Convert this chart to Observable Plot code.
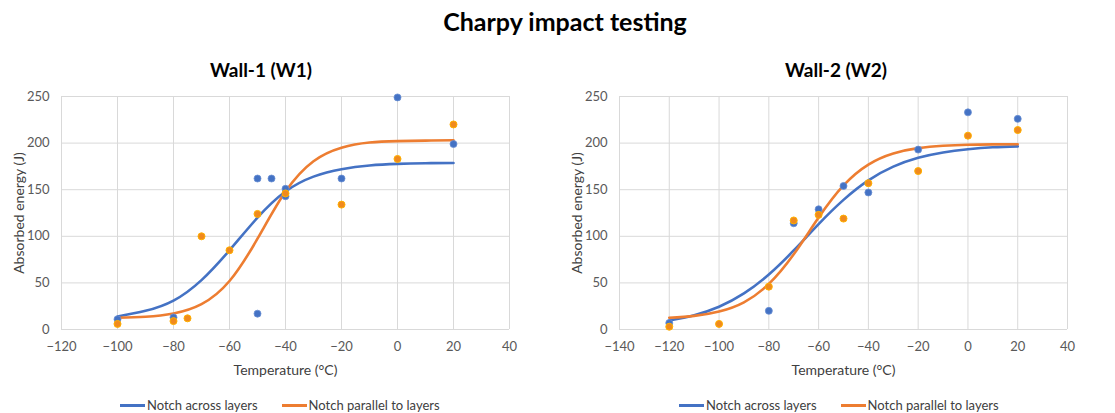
<!DOCTYPE html>
<html>
<head>
<meta charset="utf-8">
<script src="https://cdn.jsdelivr.net/npm/d3@7"></script>
<script src="https://cdn.jsdelivr.net/npm/@observablehq/plot@0.6"></script>
<style>
  body { margin: 0; background: #fff; }
  #root { position: relative; width: 1115px; height: 413px; font-family: Lato, "Open Sans", sans-serif; overflow: hidden; }
  .abs { position: absolute; }
  .title { font-weight: bold; font-size: 25px; color: #000; line-height: 1; white-space: nowrap; transform: translateX(-50%); }
  .sub { font-weight: bold; font-size: 19px; color: #000; line-height: 1; white-space: nowrap; transform: translateX(-50%); }
  .legend { display: flex; align-items: center; font-size: 13px; color: #404040; white-space: nowrap; }
  .sw { display: inline-block; width: 25px; height: 3px; margin-right: 2px; }
  .item { display: flex; align-items: center; margin-right: 24px; }
</style>
</head>
<body>
<div id="root"></div>
<script>
// ---- data ----
const chartTitle = "Charpy impact testing";
const panelTitles = ["Wall-1 (W1)", "Wall-2 (W2)"];
const seriesNames = ["Notch across layers", "Notch parallel to layers"];
const xLabel = "Temperature (°C)";
const yLabel = "Absorbed energy (J)";
const yTicks = [0, 50, 100, 150, 200, 250];
const xTicksW1 = [-120, -100, -80, -60, -40, -20, 0, 20, 40];
const xTicksW2 = [-140, -120, -100, -80, -60, -40, -20, 0, 20, 40];

// Wall-1 measured points
const w1AcrossT = [-100, -80, -50, -50, -45, -40, -40, -20, 0, 20];
const w1AcrossE = [11, 13, 162, 17, 162, 151, 143, 162, 249, 199];
const w1ParallelT = [-100, -80, -75, -70, -60, -50, -40, -20, 0, 20];
const w1ParallelE = [6, 9, 12, 100, 85, 124, 146, 134, 183, 220];
// Wall-1 fitted curves
const w1CurveT = [-100, -90, -80, -70, -60, -50, -40, -30, -20, -10, 0, 10, 20];
const w1AcrossFit = [14, 20, 31, 53, 85, 120, 148, 164, 172, 176, 177.7, 178.4, 178.7];
const w1ParallelFit = [12.6, 13.7, 17.2, 27.2, 52, 97.4, 148, 180.6, 195.1, 200.6, 202.1, 202.7, 203];

// Wall-2 measured points
const w2AcrossT = [-120, -80, -70, -60, -50, -40, -20, 0, 20];
const w2AcrossE = [7, 20, 114, 129, 154, 147, 193, 233, 226];
const w2ParallelT = [-120, -100, -80, -70, -60, -50, -40, -20, 0, 20];
const w2ParallelE = [3, 6, 46, 117, 123, 119, 157, 170, 208, 214];
// Wall-2 fitted curves
const w2CurveT = [-120, -110, -100, -90, -80, -70, -60, -50, -40, -30, -20, -10, 0, 10, 20];
const w2AcrossFit = [9.6, 15.3, 24.4, 38.7, 59, 84.8, 113.1, 139.1, 160, 174.7, 184.2, 190, 193.4, 195.5, 196.5];
const w2ParallelFit = [12.6, 14.6, 19.3, 29.2, 48.9, 80.7, 120.1, 154.6, 177, 188.9, 194.6, 197.1, 198.2, 198.6, 198.8];

const blue = "#4472C4";
const orange = "#ED7D31";
const orangeDot = "#F08A1E";
const orangeRim = "#FFB000";
const gridColor = "#D9D9D9";
const tickColor = "#595959";

const zip = (xs, ys) => xs.map((x, i) => ({x, y: ys[i]}));

function panel({xDomain, xTicks, acrossT, acrossE, parT, parE, curveT, acrossFit, parFit, width, marginLeft, marginRight}) {
  return Plot.plot({
    width, height: 300,
    marginTop: 16, marginBottom: 51, marginLeft, marginRight,
    style: {fontFamily: "Lato, 'Open Sans', sans-serif", fontSize: "13px", color: tickColor, background: "transparent", overflow: "visible"},
    x: {domain: xDomain, ticks: xTicks, label: null},
    y: {domain: [0, 250], ticks: yTicks, label: null},
    marks: [
      Plot.gridX(xTicks, {stroke: gridColor, strokeOpacity: 1, strokeWidth: 1}),
      Plot.gridY(yTicks, {stroke: gridColor, strokeOpacity: 1, strokeWidth: 1}),
      Plot.axisX(xTicks, {tickSize: 0, tickPadding: 12, fontSize: 13, fill: tickColor}),
      Plot.axisY(yTicks, {tickSize: 0, tickPadding: 12, fontSize: 13, fill: tickColor}),
      Plot.text([xLabel], {frameAnchor: "bottom", dy: 41, lineAnchor: "middle", textAnchor: "middle", fontSize: 14, fill: "#404040"}),
      Plot.text([yLabel], {frameAnchor: "left", dx: -42, rotate: -90, lineAnchor: "middle", textAnchor: "middle", fontSize: 14, fill: "#404040"}),
      Plot.line(zip(curveT, acrossFit), {x: "x", y: "y", stroke: blue, strokeWidth: 2.6, curve: "natural"}),
      Plot.line(zip(curveT, parFit), {x: "x", y: "y", stroke: orange, strokeWidth: 2.6, curve: "natural"}),
      Plot.dot(zip(acrossT, acrossE), {x: "x", y: "y", r: 3.5, fill: blue, stroke: "#6A8FD3", strokeWidth: 0.8}),
      Plot.dot(zip(parT, parE), {x: "x", y: "y", r: 3.5, fill: orangeDot, stroke: orangeRim, strokeWidth: 1})
    ]
  });
}

const root = document.getElementById("root");

function addDiv(cls, text, left, top) {
  const d = document.createElement("div");
  d.className = "abs " + cls;
  d.textContent = text;
  d.style.left = left + "px";
  d.style.top = top + "px";
  root.appendChild(d);
  return d;
}

addDiv("title", chartTitle, 565, 9);
addDiv("sub", panelTitles[0], 261, 60);
addDiv("sub", panelTitles[1], 836, 60);

const p1 = panel({xDomain: [-120, 40], xTicks: xTicksW1, acrossT: w1AcrossT, acrossE: w1AcrossE, parT: w1ParallelT, parE: w1ParallelE,
  curveT: w1CurveT, acrossFit: w1AcrossFit, parFit: w1ParallelFit, width: 555, marginLeft: 61, marginRight: 46});
p1.style.position = "absolute"; p1.style.left = "0px"; p1.style.top = "80px";
root.appendChild(p1);

const p2 = panel({xDomain: [-140, 40], xTicks: xTicksW2, acrossT: w2AcrossT, acrossE: w2AcrossE, parT: w2ParallelT, parE: w2ParallelE,
  curveT: w2CurveT, acrossFit: w2AcrossFit, parFit: w2ParallelFit, width: 560, marginLeft: 64, marginRight: 48});
p2.style.position = "absolute"; p2.style.left = "555px"; p2.style.top = "80px";
root.appendChild(p2);

function legend(left, top) {
  const d = document.createElement("div");
  d.className = "abs legend";
  d.style.left = left + "px";
  d.style.top = top + "px";
  [[seriesNames[0], blue], [seriesNames[1], orange]].forEach(([name, color]) => {
    const it = document.createElement("span");
    it.className = "item";
    const sw = document.createElement("span");
    sw.className = "sw";
    sw.style.background = color;
    it.appendChild(sw);
    it.appendChild(document.createTextNode(name));
    d.appendChild(it);
  });
  root.appendChild(d);
}
legend(120, 397);
legend(679, 397);
</script>
</body>
</html>
